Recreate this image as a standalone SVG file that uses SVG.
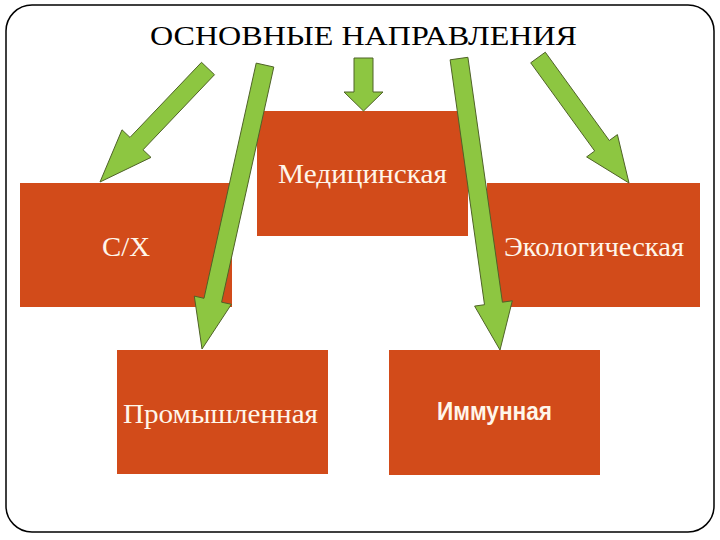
<svg xmlns="http://www.w3.org/2000/svg" width="720" height="540" viewBox="0 0 720 540">
  <style>
    .box { fill: #D24B1A; }
    .lbl { fill: #FFF6EA; font-family: "Liberation Serif", "Times New Roman", serif; font-size: 28px; text-anchor: middle; }
    .lbls { fill: #FFF6EA; font-family: "Liberation Sans", Arial, sans-serif; font-size: 25px; font-weight: bold; text-anchor: middle; }
    .arr { fill: #8DC641; stroke: #4F6228; stroke-width: 1; stroke-linejoin: miter; }
    .title { fill: #000; font-family: "Liberation Serif", "Times New Roman", serif; font-size: 28px; text-anchor: middle; }
  </style>
  <rect x="0" y="0" width="720" height="540" fill="#FFFFFF"/>
  <rect id="frame" x="6" y="5" width="708" height="527" rx="26" ry="26" fill="none" stroke="#000" stroke-width="1.5"/>
  <text id="title" class="title" x="363.5" y="45" textLength="427" lengthAdjust="spacingAndGlyphs">ОСНОВНЫЕ НАПРАВЛЕНИЯ</text>

  <g id="node-med">
    <rect class="box" x="257" y="111" width="211" height="125"/>
    <text class="lbl" x="362.5" y="183" textLength="169" lengthAdjust="spacingAndGlyphs">Медицинская</text>
  </g>
  <g id="node-sx">
    <rect class="box" x="20" y="183" width="212" height="124"/>
    <text class="lbl" x="126" y="256" textLength="48" lengthAdjust="spacingAndGlyphs">С/Х</text>
  </g>
  <g id="node-eco">
    <rect class="box" x="487" y="183" width="213" height="124"/>
    <text class="lbl" x="594" y="256" textLength="180" lengthAdjust="spacingAndGlyphs">Экологическая</text>
  </g>
  <g id="node-prom">
    <rect class="box" x="117" y="350" width="211" height="124"/>
    <text class="lbl" x="220.5" y="423" textLength="195" lengthAdjust="spacingAndGlyphs">Промышленная</text>
  </g>
  <g id="node-imm">
    <rect class="box" x="389" y="350" width="211" height="125"/>
    <text class="lbls" x="494.5" y="420" textLength="115" lengthAdjust="spacingAndGlyphs">Иммунная</text>
  </g>

  <g id="connectors">
    <polygon class="arr" points="201.5,62.3 130,137.4 122,129.8 100,182 151,157.4 143,149.8 214.5,74.7"/>
    <polygon class="arr" points="256.2,63.1 204,298.3 194.3,296.1 202,349 231.4,304.3 221.6,302.2 273.8,67"/>
    <polygon class="arr" points="354,58 373,58 373,92 383,92 363.5,111 344,92 354,92"/>
    <polygon class="arr" points="450.1,59.8 484.5,304.7 474.6,306.1 500,350 512.3,300.8 502.4,302.2 467.9,57.3"/>
    <polygon class="arr" points="530.7,62.8 594.7,151 586.6,156.9 629,183 617.4,134.6 609.3,140.5 545.3,52.2"/>
  </g>
</svg>
